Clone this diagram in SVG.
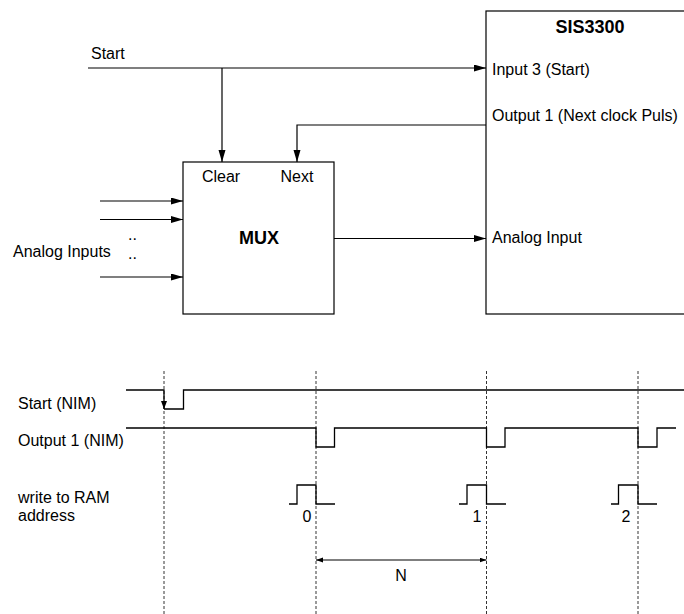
<svg xmlns="http://www.w3.org/2000/svg" width="684" height="614" viewBox="0 0 684 614">
<style>
text{font-family:"Liberation Sans",Arial,sans-serif;font-size:16px;fill:#000}
.b{font-weight:bold;font-size:18px}
.m{text-anchor:middle}
.box{fill:#fff;stroke:#000;stroke-width:1.2}
.ln{fill:none;stroke:#000;stroke-width:1.2}
.sig{fill:none;stroke:#000;stroke-width:1.3}
.dash{fill:none;stroke:#000;stroke-width:0.8;stroke-dasharray:3,2}
</style>
<defs>
<marker id="ah" markerUnits="userSpaceOnUse" markerWidth="12" markerHeight="8" refX="12" refY="3.5" orient="auto"><path d="M0,0 L12,3.5 L0,7 z" fill="#000"/></marker>
<marker id="as" markerUnits="userSpaceOnUse" markerWidth="8" markerHeight="7" refX="8" refY="3" orient="auto"><path d="M0,0 L8,3 L0,6 z" fill="#000"/></marker>
<marker id="an" markerUnits="userSpaceOnUse" markerWidth="7" markerHeight="6" refX="7" refY="2.5" orient="auto-start-reverse"><path d="M0,0 L7,2.5 L0,5 z" fill="#000"/></marker>
</defs>
<g id="sis3300">
<rect class="box" x="486" y="11" width="220" height="303"/>
<text class="b m" x="590" y="33">SIS3300</text>
<text x="492" y="75">Input 3 (Start)</text>
<text x="492" y="120.5">Output 1 (Next clock Puls)</text>
<text x="492" y="243">Analog Input</text>
</g>
<g id="mux">
<rect class="box" x="183" y="162" width="151" height="152"/>
<text class="m" x="221" y="181.5">Clear</text>
<text class="m" x="297" y="181.5">Next</text>
<text class="b m" x="259" y="244">MUX</text>
</g>
<g id="labels">
<text x="91" y="59">Start</text>
<text x="13" y="256.5">Analog Inputs</text>
<text x="128" y="239.5">..</text>
<text x="128" y="259">..</text>
</g>
<g id="connectors">
<path class="ln" d="M88,68 H486" marker-end="url(#ah)"/>
<path class="ln" d="M222,68 V162" marker-end="url(#ah)"/>
<path class="ln" d="M486,125 H297 V162" marker-end="url(#ah)"/>
<path class="ln" d="M100,201 H183" marker-end="url(#ah)"/>
<path class="ln" d="M100,219.5 H183" marker-end="url(#ah)"/>
<path class="ln" d="M100,277 H183" marker-end="url(#ah)"/>
<path class="ln" d="M334,238.5 H486" marker-end="url(#ah)"/>
</g>
<g id="timing">
<path class="dash" d="M164,371 V614 M316,371 V614 M486.5,371 V614 M638,371 V614"/>
<path class="sig" d="M126,390 H164 V409" marker-end="url(#as)"/>
<path class="sig" d="M164,409 H183.5 V390 H684"/>
<path class="sig" d="M126,428 H316 V447 H334.5 V428 H486.5 V447 H505 V428 H638 V447 H657 V428 H676"/>
<path class="sig" d="M289,504 H297 V485 H316 V504 H335"/>
<path class="sig" d="M459,504 H467 V485 H486.5 V504 H506"/>
<path class="sig" d="M611,504 H618.5 V485 H638 V504 H657"/>
<path class="ln" d="M316,560 H486.5" marker-start="url(#an)" marker-end="url(#an)"/>
<text x="18" y="409">Start (NIM)</text>
<text x="18" y="446">Output 1 (NIM)</text>
<text x="18" y="503">write to RAM</text>
<text x="18" y="521">address</text>
<text class="m" x="307" y="521.5">0</text>
<text class="m" x="477" y="521.5">1</text>
<text class="m" x="626" y="522">2</text>
<text class="m" x="401" y="580.5">N</text>
</g>
</svg>
